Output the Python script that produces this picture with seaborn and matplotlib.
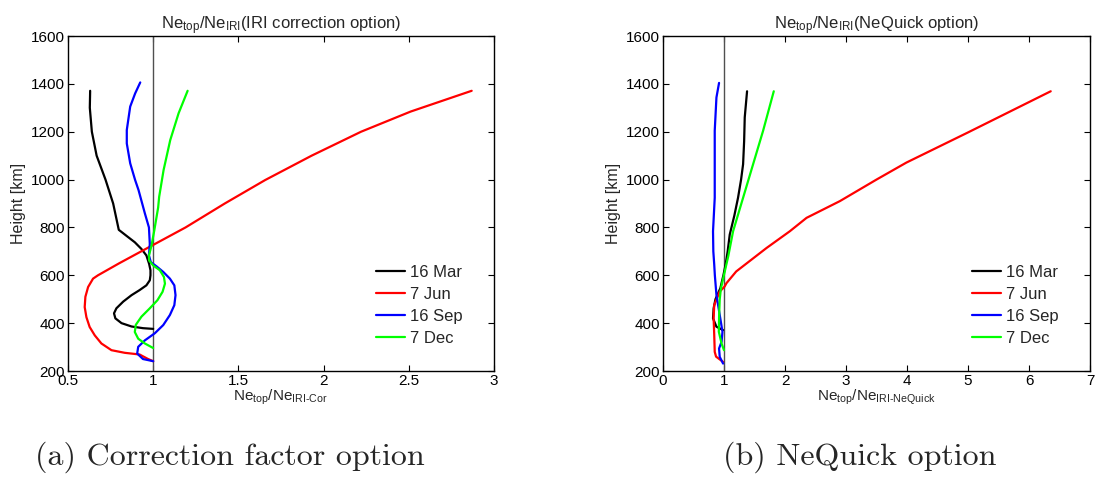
import numpy as np
import pandas as pd
import matplotlib
matplotlib.use("Agg")
import matplotlib.pyplot as plt
import seaborn as sns

# ---------------- data ----------------
dates = ["16 Mar", "7 Jun", "16 Sep", "7 Dec"]
colors = ["#000000", "#ff0000", "#0000ff", "#00ff00"]

# (a) IRI correction option
cor_mar_h = [376, 379, 386, 400, 420, 441, 462, 490, 517, 538, 558, 579, 600, 621, 648, 683, 710, 738, 765, 790,
             900, 1000, 1100, 1200, 1300, 1371]
cor_mar_v = [1.0, 0.94, 0.873, 0.814, 0.778, 0.77, 0.784, 0.824, 0.873, 0.92, 0.96, 0.98, 0.984, 0.984, 0.976, 0.96,
             0.931, 0.892, 0.843, 0.798, 0.765, 0.72, 0.668, 0.64, 0.628, 0.63]

cor_jun_h = [241, 250, 269, 276, 287, 315, 349, 384, 425, 467, 510, 551, 586, 600, 650, 727, 800, 900, 998, 1100,
             1200, 1284, 1371]
cor_jun_v = [1.0, 0.97, 0.92, 0.833, 0.755, 0.696, 0.657, 0.627, 0.608, 0.598, 0.602, 0.618, 0.647, 0.676, 0.80,
             1.0, 1.19, 1.42, 1.657, 1.93, 2.22, 2.51, 2.869]

cor_sep_h = [241, 250, 273, 301, 328, 358, 392, 434, 475, 517, 558, 586, 614, 637, 655, 683, 731, 800, 859, 956,
             998, 1068, 1151, 1207, 1305, 1360, 1406]
cor_sep_v = [1.0, 0.94, 0.906, 0.912, 0.951, 1.01, 1.059, 1.098, 1.124, 1.131, 1.124, 1.098, 1.059, 1.02, 0.986,
             0.975, 0.98, 0.975, 0.951, 0.914, 0.894, 0.865, 0.845, 0.845, 0.865, 0.894, 0.924]

cor_dec_h = [296, 315, 335, 363, 393, 427, 462, 496, 531, 565, 593, 621, 641, 662, 683, 724, 786, 883, 928, 1040,
             1165, 1277, 1371]
cor_dec_v = [1.0, 0.951, 0.912, 0.892, 0.898, 0.931, 0.98, 1.025, 1.055, 1.069, 1.063, 1.039, 1.0, 0.976, 0.975,
             0.99, 1.006, 1.029, 1.035, 1.061, 1.1, 1.149, 1.202]

# (b) NeQuick option
nq_mar_h = [371, 385, 420, 462, 500, 546, 600, 650, 700, 770, 850, 924, 1000, 1064, 1160, 1260, 1369]
nq_mar_v = [0.985, 0.876, 0.82, 0.83, 0.86, 0.94, 0.99, 1.03, 1.06, 1.094, 1.17, 1.23, 1.28, 1.313, 1.33, 1.34, 1.378]

nq_jun_h = [238, 260, 280, 350, 420, 476, 532, 553, 567, 616, 714, 784, 840, 910, 1000, 1071, 1197, 1369]
nq_jun_v = [0.985, 0.87, 0.848, 0.84, 0.83, 0.84, 0.93, 1.01, 1.04, 1.2, 1.697, 2.079, 2.353, 2.90, 3.5, 3.99, 5.0, 6.356]

nq_sep_h = [231, 259, 294, 322, 364, 434, 518, 600, 644, 700, 784, 924, 1064, 1204, 1343, 1404]
nq_sep_v = [0.985, 0.93, 0.919, 0.96, 0.975, 0.93, 0.876, 0.85, 0.84, 0.825, 0.82, 0.848, 0.848, 0.848, 0.876, 0.919]

nq_dec_h = [287, 315, 364, 434, 500, 546, 602, 680, 784, 924, 1064, 1204, 1369]
nq_dec_v = [1.0, 0.96, 0.915, 0.92, 0.93, 0.95, 1.0, 1.07, 1.149, 1.313, 1.477, 1.641, 1.816]

left_xticks = [0.5, 1, 1.5, 2, 2.5, 3]
left_xticklabels = ["0.5", "1", "1.5", "2", "2.5", "3"]
right_xticks = [0, 1, 2, 3, 4, 5, 6, 7]
right_xticklabels = ["0", "1", "2", "3", "4", "5", "6", "7"]
yticks = [200, 400, 600, 800, 1000, 1200, 1400, 1600]


def make_df(hs, vs):
    frames = []
    for d, h, v in zip(dates, hs, vs):
        frames.append(pd.DataFrame({"date": d, "height": h, "ratio": v}))
    return pd.concat(frames, ignore_index=True)


df_cor = make_df([cor_mar_h, cor_jun_h, cor_sep_h, cor_dec_h],
                 [cor_mar_v, cor_jun_v, cor_sep_v, cor_dec_v])
df_nq = make_df([nq_mar_h, nq_jun_h, nq_sep_h, nq_dec_h],
                [nq_mar_v, nq_jun_v, nq_sep_v, nq_dec_v])

# ---------------- style ----------------
sns.set_theme(style="white")
plt.rcParams["font.family"] = ["Liberation Sans", "DejaVu Sans"]
plt.rcParams["mathtext.default"] = "regular"
plt.rcParams["mathtext.fontset"] = "custom"
plt.rcParams["mathtext.rm"] = "Liberation Sans"
plt.rcParams["mathtext.it"] = "Liberation Sans"

palette = dict(zip(dates, colors))
narrow = ["Liberation Sans Narrow", "Liberation Sans", "DejaVu Sans"]

fig = plt.figure(figsize=(11.01, 4.94), dpi=100)
axL = fig.add_axes([68 / 1101, 1 - 371 / 494, 426 / 1101, 335 / 494])
axR = fig.add_axes([663 / 1101, 1 - 371 / 494, 427 / 1101, 335 / 494])

panels = [
    (axL, df_cor, (0.5, 3), left_xticks, left_xticklabels,
     r"Ne$_{top}$/Ne$_{IRI}$(IRI correction option)",
     r"Ne$_{top}$/Ne$_{\text{IRI-Cor}}$"),
    (axR, df_nq, (0, 7), right_xticks, right_xticklabels,
     r"Ne$_{top}$/Ne$_{IRI}$(NeQuick option)",
     r"Ne$_{top}$/Ne$_{\text{IRI-NeQuick}}$"),
]

for ax, df, xlim, xt, xtl, title, xlabel in panels:
    ax.axvline(1, color="#505050", lw=1.0, zorder=1)
    sns.lineplot(data=df, x="ratio", y="height", hue="date", hue_order=dates,
                 palette=palette, sort=False, estimator=None, orient="y",
                 lw=1.6, ax=ax, zorder=3)
    ax.set_xlim(*xlim)
    ax.set_ylim(200, 1600)
    ax.set_xticks(xt)
    ax.set_xticklabels(xtl, fontsize=11, family=narrow)
    ax.set_yticks(yticks)
    ax.set_yticklabels([str(t) for t in yticks], fontsize=11)
    ax.tick_params(direction="in", length=4, width=0.8, top=True, right=True,
                   bottom=True, left=True, pad=2, colors="black")
    for s in ax.spines.values():
        s.set_color("black")
        s.set_linewidth(1.0)
    ax.set_title(title, fontsize=12, pad=5)
    ax.set_xlabel(xlabel, fontsize=11, family=narrow, labelpad=0)
    ax.set_ylabel("Height [km]", fontsize=11.5, labelpad=4)
    leg = ax.legend(loc="lower right", bbox_to_anchor=(0.95, 0.045), frameon=False,
                    fontsize=12, handlelength=1.75, handletextpad=0.3,
                    labelspacing=0.42, borderaxespad=0.2)
    for line in leg.get_lines():
        line.set_linewidth(1.6)

fig.text(230 / 1101, 1 - 457 / 494, "(a) Correction factor option",
         family="cmr10", fontsize=23, ha="center", va="center")
fig.text(860 / 1101, 1 - 457 / 494, "(b) NeQuick option",
         family="cmr10", fontsize=23, ha="center", va="center")

fig.savefig("out.png", dpi=100, facecolor="white")
